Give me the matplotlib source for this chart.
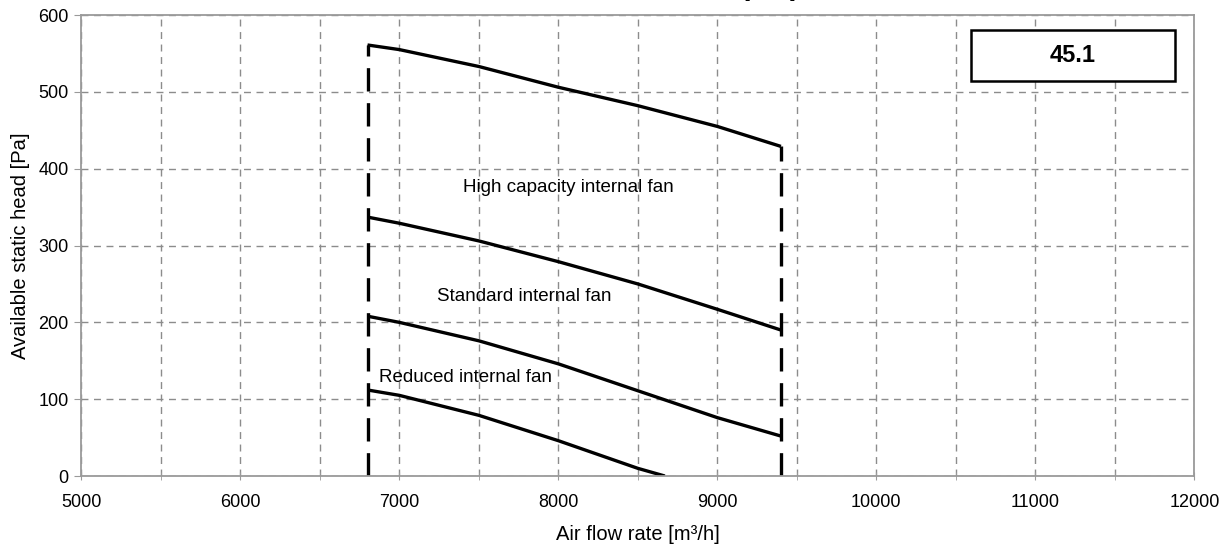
import numpy as np
import matplotlib
matplotlib.use("Agg")
import matplotlib.pyplot as plt
from matplotlib.patches import Rectangle
from matplotlib.ticker import MultipleLocator

plt.rcParams['font.family'] = ['Liberation Sans', 'DejaVu Sans']

# ====================================
# DATA
# ====================================
flow = [6800, 7000, 7500, 8000, 8500, 9000, 9400]          # m3/h
high_cap = [561, 555, 533, 506, 482, 455, 429]             # Pa
standard = [337, 329, 306, 279, 250, 217, 190]             # Pa
reduced = [208, 200, 176, 146, 111, 76, 52]                # Pa
low_flow = [6800, 7000, 7500, 8000, 8500, 8670]
lowest = [112, 105, 79, 46, 10, 0]

flow_min = 6800
flow_max = 9400
model_label = "45.1"
curve_names = ["High capacity internal fan", "Standard internal fan", "Reduced internal fan"]

# ====================================
# PLOT
# ====================================
fig = plt.figure(figsize=(12.28, 5.5), dpi=100)
ax = fig.add_axes([0.0662, 0.1345, 0.9064, 0.8382])

ax.set_xlim(5000, 12000)
ax.set_ylim(0, 600)
ax.xaxis.set_major_locator(MultipleLocator(1000))
ax.xaxis.set_minor_locator(MultipleLocator(500))
ax.yaxis.set_major_locator(MultipleLocator(100))

grid_kw = dict(color='#8c8c8c', linestyle=(0, (5, 4)), linewidth=1.0)
ax.grid(True, which='major', axis='both', **grid_kw)
ax.grid(True, which='minor', axis='x', **grid_kw)
ax.set_axisbelow(True)

for s in ax.spines.values():
    s.set_color('#9a9a9a')
    s.set_linewidth(1.3)

ax.tick_params(axis='x', which='both', direction='inout', length=6, color='#9a9a9a',
               labelsize=13, pad=10)
ax.tick_params(axis='y', which='both', direction='out', length=5, color='#9a9a9a',
               labelsize=13, pad=4)

# curves
lw = 2.4
ax.plot(flow, high_cap, color='black', lw=lw, solid_capstyle='butt')
ax.plot(flow, standard, color='black', lw=lw, solid_capstyle='butt')
ax.plot(flow, reduced, color='black', lw=lw, solid_capstyle='butt')
ax.plot(low_flow, lowest, color='black', lw=lw, solid_capstyle='butt')

# limits of the working range
ax.plot([flow_min, flow_min], [0, high_cap[0]], color='black', lw=lw,
        linestyle=(0, (7, 3.5)), dash_capstyle='butt')
ax.plot([flow_max, flow_max], [0, high_cap[-1]], color='black', lw=lw,
        linestyle=(0, (7, 3.5)), dash_capstyle='butt')

# curve labels
ax.text(7400, 375, curve_names[0], fontsize=13.5, va='center', ha='left')
ax.text(7240, 234, curve_names[1], fontsize=13.5, va='center', ha='left')
ax.text(6875, 128, curve_names[2], fontsize=13.5, va='center', ha='left')

# model box
ax.add_patch(Rectangle((0.799, 0.857), 0.184, 0.110, transform=ax.transAxes,
                       facecolor='white', edgecolor='black', lw=1.8, zorder=5))
ax.text(0.891, 0.912, model_label, transform=ax.transAxes, fontsize=17,
        fontweight='bold', ha='center', va='center', zorder=6)

ax.set_xlabel('Air flow rate [m³/h]', fontsize=14.5, labelpad=10)
ax.set_ylabel('Available static head [Pa]', fontsize=14.5, labelpad=6)

# clipped label of the chart above
fig.text(0.5815, 1.0155, 'Air flow rate [m³/h]', fontsize=14.5, ha='center', va='center')

plt.savefig('out.png', dpi=100)
